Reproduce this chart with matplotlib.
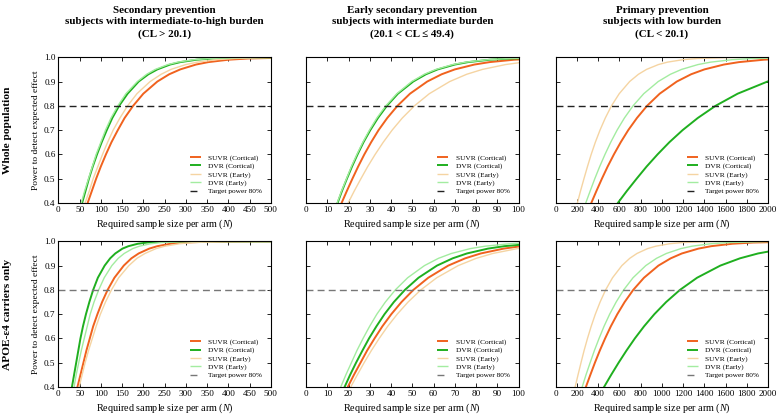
import matplotlib
matplotlib.use("Agg")
import matplotlib.pyplot as plt
from matplotlib.ticker import MultipleLocator

plt.rcParams["font.family"] = ["Liberation Serif", "DejaVu Serif"]
plt.rcParams["mathtext.fontset"] = "custom"
plt.rcParams["mathtext.rm"] = "Liberation Serif"
plt.rcParams["mathtext.it"] = "Liberation Serif:italic"

# power levels (y), sample size per arm read at each level (x)
power = [0.35, 0.40, 0.45, 0.50, 0.55, 0.60, 0.65, 0.70, 0.75, 0.80, 0.85,
         0.90, 0.93, 0.95, 0.97, 0.98, 0.99, 0.995, 0.999, 0.9999, 1.0]

# whole population - secondary prevention (CL > 20.1)
wp_sec_suvr_cort = [59, 69, 79, 89, 100, 112, 125, 140, 156, 176, 200, 233, 261, 287, 324, 353, 401, 448, 553, 696, 800]
wp_sec_dvr_cort = [48, 56, 64, 72, 81, 91, 102, 114, 127, 143, 163, 189, 212, 233, 263, 287, 326, 364, 449, 565, 800]
wp_sec_suvr_early = [55, 63, 73, 82, 93, 104, 116, 129, 145, 163, 185, 216, 242, 265, 300, 327, 372, 415, 512, 644, 800]
wp_sec_dvr_early = [47, 54, 62, 71, 80, 89, 100, 111, 124, 140, 159, 186, 208, 228, 258, 281, 319, 356, 440, 553, 800]

# whole population - early secondary prevention (20.1 < CL <= 49.4)
wp_early_suvr_cort = [14.4, 16.7, 19.2, 21.8, 24.5, 27.4, 30.6, 34.1, 38.2, 43.0, 48.9, 57.0, 63.8, 70.0, 79.2, 86.3, 98.0, 109.5, 135.1, 170.0, 250]
wp_early_dvr_cort = [12.7, 14.8, 16.9, 19.2, 21.6, 24.2, 27.0, 30.2, 33.8, 38.0, 43.2, 50.4, 56.4, 61.9, 70.0, 76.2, 86.6, 96.7, 119.4, 150.2, 250]
wp_early_suvr_early = [17.1, 19.8, 22.7, 25.8, 29.0, 32.5, 36.3, 40.5, 45.3, 51.0, 58.0, 67.6, 75.6, 83.0, 93.9, 102.3, 116.3, 129.8, 160.2, 201.6, 250]
wp_early_dvr_early = [12.6, 14.6, 16.7, 19.0, 21.3, 23.9, 26.7, 29.8, 33.3, 37.5, 42.7, 49.7, 55.6, 61.1, 69.0, 75.2, 85.5, 95.5, 117.8, 148.2, 250]

# whole population - primary prevention (CL < 20.1)
wp_prim_suvr_cort = [288, 335, 384, 435, 489, 548, 612, 683, 765, 860, 979, 1140, 1275, 1400, 1583, 1725, 1961, 2190, 2701, 3400, 4200]
wp_prim_dvr_cort = [504, 585, 671, 762, 856, 959, 1070, 1195, 1338, 1505, 1713, 1994, 2232, 2450, 2771, 3019, 3431, 3832, 4727, 5949, 8000]
wp_prim_suvr_early = [176, 204, 234, 266, 299, 334, 373, 417, 467, 525, 598, 696, 779, 855, 967, 1053, 1197, 1337, 1649, 2075, 2600]
wp_prim_dvr_early = [244, 283, 325, 368, 414, 464, 518, 578, 647, 728, 829, 965, 1080, 1185, 1340, 1460, 1660, 1854, 2287, 2878, 3500]

# APOE-e4 carriers - secondary prevention
ap_sec_suvr_cort = [39, 45, 52, 59, 66, 74, 82, 92, 103, 116, 132, 154, 172, 189, 214, 233, 264, 295, 364, 459, 600]
ap_sec_dvr_cort = [27, 32, 37, 42, 47, 52, 58, 65, 73, 82, 93, 109, 122, 134, 151, 165, 187, 209, 258, 324, 600]
ap_sec_suvr_early = [42, 49, 56, 63, 71, 80, 89, 99, 111, 125, 142, 166, 185, 204, 230, 251, 285, 318, 393, 494, 600]
ap_sec_dvr_early = [32, 37, 42, 48, 54, 61, 68, 75, 84, 95, 108, 126, 141, 155, 175, 191, 217, 242, 298, 376, 600]

# APOE-e4 carriers - early secondary prevention
ap_early_suvr_cort = [16.9, 19.6, 22.5, 25.6, 28.7, 32.2, 35.9, 40.1, 44.9, 50.5, 57.5, 66.9, 74.9, 82.2, 93.0, 101.3, 115.1, 128.6, 158.6, 199.6, 250]
ap_early_dvr_cort = [15.6, 18.1, 20.7, 23.5, 26.5, 29.6, 33.1, 36.9, 41.3, 46.5, 52.9, 61.6, 69.0, 75.7, 85.6, 93.3, 106.0, 118.4, 146.1, 183.8, 250]
ap_early_suvr_early = [18.1, 21.0, 24.1, 27.3, 30.7, 34.4, 38.4, 42.9, 48.0, 54.0, 61.5, 71.6, 80.1, 87.9, 99.4, 108.3, 123.1, 137.5, 169.6, 213.5, 250]
ap_early_dvr_early = [14.1, 16.3, 18.7, 21.3, 23.9, 26.8, 29.9, 33.3, 37.3, 42.0, 47.8, 55.7, 62.3, 68.4, 77.3, 84.3, 95.8, 106.9, 131.9, 166.0, 250]

# APOE-e4 carriers - primary prevention
ap_prim_suvr_cort = [245, 284, 326, 369, 415, 465, 519, 580, 649, 730, 831, 967, 1083, 1188, 1344, 1464, 1664, 1859, 2293, 2886, 3500]
ap_prim_dvr_cort = [392, 455, 522, 592, 666, 745, 832, 929, 1040, 1170, 1331, 1550, 1735, 1905, 2154, 2347, 2668, 2979, 3675, 4625, 6000]
ap_prim_suvr_early = [158, 183, 210, 238, 267, 299, 334, 373, 418, 470, 535, 623, 697, 765, 865, 943, 1072, 1197, 1476, 1858, 2200]
ap_prim_dvr_early = [214, 249, 285, 324, 364, 408, 455, 508, 569, 640, 728, 848, 949, 1042, 1178, 1284, 1459, 1629, 2010, 2530, 3000]

col_titles = [
    "Secondary prevention\nsubjects with intermediate-to-high burden\n(CL > 20.1)",
    "Early secondary prevention\nsubjects with intermediate burden\n(20.1 < CL \u2264 49.4)",
    "Primary prevention\nsubjects with low burden\n(CL < 20.1)",
]
row_labels = ["Whole population", "APOE-\u03b54 carriers only"]
x_max = [500, 100, 2000]
x_step = [50, 10, 200]
target = 0.8

series_names = ["SUVR (Cortical)", "DVR (Cortical)", "SUVR (Early)", "DVR (Early)"]
colors = ["#F0621E", "#1FAF1F", "#F5D4A2", "#A3ECA0"]
widths = [1.4, 1.4, 1.0, 1.0]
target_colors = ["#222222", "#777777"]

grid = [
    [[wp_sec_suvr_cort, wp_sec_dvr_cort, wp_sec_suvr_early, wp_sec_dvr_early],
     [wp_early_suvr_cort, wp_early_dvr_cort, wp_early_suvr_early, wp_early_dvr_early],
     [wp_prim_suvr_cort, wp_prim_dvr_cort, wp_prim_suvr_early, wp_prim_dvr_early]],
    [[ap_sec_suvr_cort, ap_sec_dvr_cort, ap_sec_suvr_early, ap_sec_dvr_early],
     [ap_early_suvr_cort, ap_early_dvr_cort, ap_early_suvr_early, ap_early_dvr_early],
     [ap_prim_suvr_cort, ap_prim_dvr_cort, ap_prim_suvr_early, ap_prim_dvr_early]],
]

fig = plt.figure(figsize=(7.78, 4.15), dpi=100)
lefts = [0.075, 0.3935, 0.7143]
bottoms = [0.511, 0.0675]
w, h = 0.273, 0.351

for r in range(2):
    for c in range(3):
        ax = fig.add_axes([lefts[c], bottoms[r], w, h])
        for k in range(4):
            ax.plot(grid[r][c][k], power, color=colors[k], lw=widths[k],
                    label=series_names[k], solid_capstyle="butt")
        ax.axhline(target, color=target_colors[r], lw=1.0, ls=(0, (5, 3)),
                   label="Target power 80%")
        ax.set_xlim(0, x_max[c])
        ax.set_ylim(0.4, 1.0)
        ax.xaxis.set_major_locator(MultipleLocator(x_step[c]))
        ax.yaxis.set_major_locator(MultipleLocator(0.1))
        ax.tick_params(direction="in", top=True, right=True, length=3,
                       width=0.6, labelsize=6.6, pad=2)
        for s in ax.spines.values():
            s.set_linewidth(0.8)
        if c == 0:
            ax.set_yticklabels([f"{v:.1f}" for v in ax.get_yticks()])
            ax.set_ylabel("Power to detect expected effect", fontsize=6.8, labelpad=3)
        else:
            ax.set_yticklabels([])
        ax.set_xlabel("Required sample size per arm ($\\mathit{N}$)", fontsize=7.3, labelpad=3)
        ax.legend(loc="lower right", fontsize=5.3, frameon=False,
                  handlelength=1.5, handletextpad=1.0, labelspacing=0.25,
                  borderaxespad=0.8)
        if r == 0:
            ax.set_title(col_titles[c], fontsize=7.9, fontweight="bold",
                         linespacing=1.38, pad=15)
    fig.text(0.009, bottoms[r] + h / 2, row_labels[r], rotation=90,
             ha="center", va="center", fontsize=8.2, fontweight="bold")

fig.savefig("out.png", dpi=100)
